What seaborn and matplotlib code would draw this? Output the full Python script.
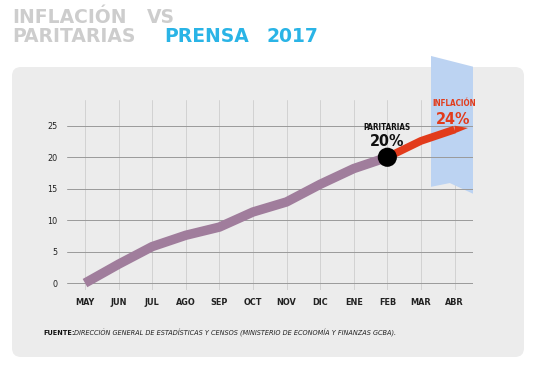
import numpy as np
import pandas as pd
import matplotlib
matplotlib.use("Agg")
import matplotlib.pyplot as plt
import matplotlib.patches as mpatches
from matplotlib.transforms import IdentityTransform
from matplotlib import font_manager as fm
import seaborn as sns

# ---------------- data ----------------
months = ["MAY", "JUN", "JUL", "AGO", "SEP", "OCT", "NOV", "DIC", "ENE", "FEB", "MAR", "ABR"]
paritarias_months = ["MAY", "JUN", "JUL", "AGO", "SEP", "OCT", "NOV", "DIC", "ENE", "FEB"]
paritarias_vals = [0, 3.0, 5.8, 7.6, 8.9, 11.3, 12.9, 15.7, 18.2, 20]
inflacion_months = ["FEB", "MAR", "ABR"]
inflacion_vals = [20, 22.6, 24.4]
yticks = [0, 5, 10, 15, 20, 25]
title_words_1 = ["INFLACIÓN", "VS"]
title_words_2 = ["PARITARIAS"]
title_words_2b = ["PRENSA", "2017"]
source_bold = "FUENTE:"
source_text = "DIRECCIÓN GENERAL DE ESTADÍSTICAS Y CENSOS (MINISTERIO DE ECONOMÍA Y FINANZAS GCBA)."

sns.set_theme(style="white")
names = {f.name for f in fm.fontManager.ttflist}
cond = "Liberation Sans Narrow" if "Liberation Sans Narrow" in names else "DejaVu Sans"
plt.rcParams["font.family"] = [cond, "DejaVu Sans"]
plt.rcParams["font.stretch"] = "condensed"

W, H = 538, 369
fig = plt.figure(figsize=(W / 100, H / 100), dpi=100)
fig.patch.set_facecolor("white")

def px(x, y):
    return x / W, 1 - y / H

# background panel
panel = mpatches.FancyBboxPatch((12, H - 357), 512, 290,
                                boxstyle="round,pad=0,rounding_size=9",
                                transform=IdentityTransform(), facecolor="#ececec",
                                edgecolor="none", zorder=-5)
fig.patches.append(panel)

# axes
x0, x1 = 67, 473
ytop, ybot = 100, 290
ax = fig.add_axes([x0 / W, 1 - ybot / H, (x1 - x0) / W, (ybot - ytop) / H])
ax.set_facecolor("none")

pos = {m: i for i, m in enumerate(months)}
df_p = pd.DataFrame({"x": [pos[m] for m in paritarias_months], "y": paritarias_vals})
df_i = pd.DataFrame({"x": [pos[m] for m in inflacion_months], "y": inflacion_vals})

# blue ribbon (decoration)
ribbon = mpatches.Polygon([(10.30, 36.1), (11.55, 34.4), (11.55, 14.2), (10.86, 15.9), (10.30, 15.3)],
                          closed=True, facecolor="#bcd3f2", edgecolor="none",
                          zorder=0.2, clip_on=False)
ax.add_patch(ribbon)

sns.lineplot(data=df_p, x="x", y="y", ax=ax, color="#a07d9c", linewidth=6.8,
             solid_capstyle="butt", zorder=3)
sns.lineplot(data=df_i, x="x", y="y", ax=ax, color="#e23b1b", linewidth=5.6,
             solid_capstyle="butt", zorder=3)
# pointed tip after the last inflation point
lx, ly = pos[inflacion_months[-1]], inflacion_vals[-1]
tip = mpatches.Polygon([(lx, ly + 0.62), (lx + 0.4, ly + 0.25), (lx, ly - 0.62)],
                       closed=True, facecolor="#e23b1b", edgecolor="none", zorder=3, clip_on=False)
ax.add_patch(tip)
ax.scatter([pos["FEB"]], [paritarias_vals[-1]], s=190, color="black", zorder=4, edgecolor="none")

ax.set_xlim(-0.536, 11.55)
ax.set_ylim(-1.1, 29.1)
ax.set_xticks(range(len(months)))
ax.set_xticklabels(months, fontweight="bold", fontsize=6.5, color="#222222")
ax.set_yticks(yticks)
ax.set_yticklabels([str(v) for v in yticks], fontsize=6.5, color="#222222")
ax.tick_params(axis="both", length=0)
ax.tick_params(axis="x", pad=6)
ax.tick_params(axis="y", pad=7)
ax.set_xlabel("")
ax.set_ylabel("")
for s in ax.spines.values():
    s.set_visible(False)

# grid lines
for v in yticks:
    ax.axhline(v, color="#9a9a9a", linewidth=0.7, zorder=1)
for i in range(len(months)):
    ax.axvline(i, color="#d2d2d2", linewidth=0.7, zorder=0.1)

# annotations
ax.text(pos["FEB"], 24.7, "PARITARIAS", ha="center", va="center", fontsize=5.8,
        fontweight="bold", color="#111111", zorder=5)
ax.text(pos["FEB"], 22.5, "20%", ha="center", va="center", fontsize=11.5,
        fontweight="bold", color="#111111", zorder=5)
ax.text(pos["ABR"], 28.5, "INFLACIÓN", ha="center", va="center", fontsize=5.8,
        fontweight="bold", color="#e23b1b", zorder=5, clip_on=False)
ax.text(pos["ABR"] - 0.05, 26.0, "24%", ha="center", va="center", fontsize=11.5,
        fontweight="bold", color="#e23b1b", zorder=5, clip_on=False)

# title (words placed with wide tracking as in the reference)
tfont = ["DejaVu Sans"]
tkw = dict(fontsize=13.5, fontweight="bold", ha="left", va="center", family=tfont,
           fontstretch="normal")
for word, xw in zip(title_words_1, [12, 147]):
    fig.text(*px(xw, 17.5), word, color="#cdcdcd", **tkw)
for word, xw in zip(title_words_2, [12]):
    fig.text(*px(xw, 37), word, color="#cdcdcd", **tkw)
for word, xw in zip(title_words_2b, [164, 267]):
    fig.text(*px(xw, 37), word, color="#2ab4e6", **tkw)

# source
fig.text(*px(43, 333), source_bold, fontsize=5.2, fontweight="bold", color="#111111",
         ha="left", va="center")
fig.text(*px(74, 333), source_text, fontsize=5.2, style="italic", color="#222222",
         ha="left", va="center")

fig.savefig("out.png", dpi=100, facecolor="white")
